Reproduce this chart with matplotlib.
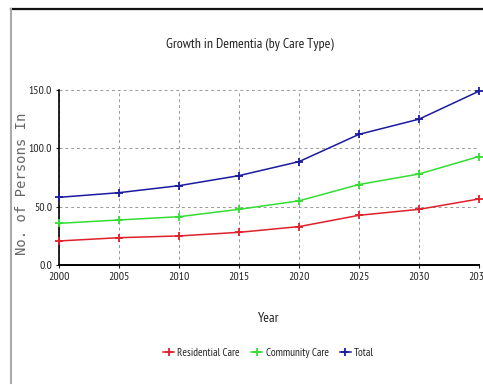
import matplotlib
matplotlib.use('Agg')
import matplotlib.pyplot as plt
from matplotlib.lines import Line2D

years = [2000, 2005, 2010, 2015, 2020, 2025, 2030, 2035]
residential = [20.6, 23.4, 24.9, 28.0, 32.9, 42.6, 47.7, 56.6]
community = [35.7, 38.6, 41.4, 47.7, 55.0, 69.0, 78.0, 93.0]
total = [58.0, 62.0, 68.0, 76.6, 88.6, 112.0, 125.0, 149.0]
y_ticks = [0, 50, 100, 150]

narrow = ['PT Sans Narrow', 'Archivo Narrow', 'DejaVu Sans']

fig = plt.figure(figsize=(4.83, 3.85), dpi=100)
ax = fig.add_axes([0.1222, 0.3117, 0.8695, 0.4545])

series = [
    ('Residential Care', residential, '#e0202a'),
    ('Community Care', community, '#33dd33'),
    ('Total', total, '#1a1aa0'),
]
for label, vals, color in series:
    ax.plot(years, vals, color=color, lw=1.1, marker='+', ms=6, mew=1.3,
            label=label, clip_on=False, zorder=3)

ax.set_xlim(2000, 2035)
ax.set_ylim(0, 150)
ax.set_xticks(years)
ax.set_yticks(y_ticks)
ax.set_yticklabels([f'{v:.1f}' for v in y_ticks])
for lbl in ax.get_xticklabels() + ax.get_yticklabels():
    lbl.set_family(narrow)
    lbl.set_fontsize(8.5)
ax.tick_params(length=2, pad=3, colors='#222222')

ax.grid(True, color='#999999', ls=(0, (3, 3)), lw=0.7)
ax.spines['top'].set_visible(False)
ax.spines['right'].set_visible(False)
ax.spines['left'].set_linewidth(1.2)
ax.spines['bottom'].set_linewidth(1.4)

ax.set_xlabel('Year', family=narrow, fontsize=10, labelpad=22, color='#222222')
fig.text(0.046, 0.523, 'No. of Persons In', rotation=90, ha='center', va='center',
         family='DejaVu Sans Mono', fontsize=10, color='#666666')
fig.text(0.518, 0.885, 'Growth in Dementia (by Care Type)', ha='center', va='center',
         family=narrow, fontsize=10, color='#222222')

handles = [Line2D([], [], color=c, marker='+', ms=6, mew=1.3, lw=1.1) for _, _, c in series]
leg = fig.legend(handles, [s[0] for s in series], loc='center', bbox_to_anchor=(0.556, 0.083),
                 ncol=3, frameon=False, handlelength=1.0, handletextpad=0.3,
                 columnspacing=1.0, prop={'family': narrow, 'size': 8})
for t in leg.get_texts():
    t.set_color('#222222')

# frame around the chart
fig.add_artist(Line2D([0.023, 1.0], [0.977, 0.977], color='#111111', lw=1.6))
fig.add_artist(Line2D([0.023, 0.023], [0.977, 0.005], color='#aaaaaa', lw=1.5))

fig.savefig('out.png', dpi=100)
